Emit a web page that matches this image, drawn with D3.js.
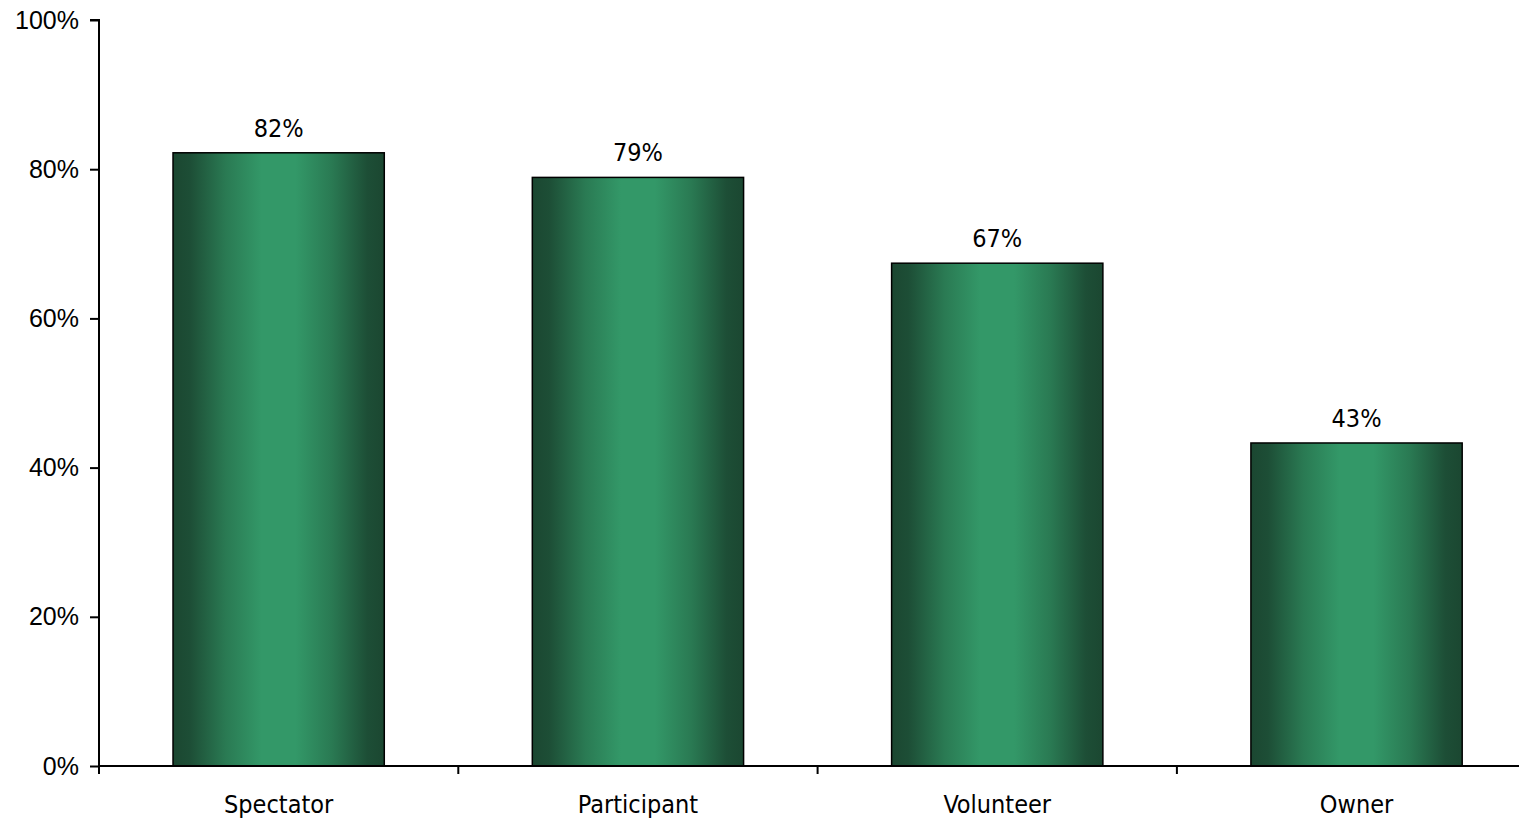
<!DOCTYPE html>
<html>
<head>
<meta charset="utf-8">
<script src="https://cdn.jsdelivr.net/npm/d3@7"></script>
<style>
  body { margin: 0; background: #fff; }
  svg { display: block; font-family: "DejaVu Sans Condensed", "DejaVu Sans", sans-serif; }
</style>
</head>
<body>
<div id="chart"></div>
<script>
// chart values
var categories = ["Spectator", "Participant", "Volunteer", "Owner"];
var values = [82.2, 78.9, 67.4, 43.3];
var valueLabels = ["82%", "79%", "67%", "43%"];
var yTicks = [0, 20, 40, 60, 80, 100];

var width = 1519, height = 819;
var marginLeft = 99, plotTop = 20, plotBottom = 766;
var fontSize = 25;

var svg = d3.select("#chart").append("svg")
  .attr("width", width)
  .attr("height", height);

// horizontal shading of the bars
var grad = svg.append("defs").append("linearGradient")
  .attr("id", "barGrad")
  .attr("x1", "0%").attr("x2", "100%")
  .attr("y1", "0%").attr("y2", "0%");
[[0, "#1b4731"], [0.08, "#1d4e36"], [0.25, "#2a7a53"], [0.42, "#339868"],
 [0.58, "#339868"], [0.75, "#2a7a53"], [0.92, "#1d4e36"], [1, "#1b4731"]]
  .forEach(function(s){
    grad.append("stop").attr("offset", s[0]).attr("stop-color", s[1]);
  });

var x = d3.scaleBand()
  .domain(categories)
  .range([marginLeft, marginLeft + 4 * 359.3])
  .paddingInner(0.412)
  .paddingOuter(0.206);

var y = d3.scaleLinear()
  .domain([0, 100])
  .range([plotBottom, plotTop]);

// bars
svg.append("g").selectAll("rect")
  .data(values)
  .enter()
  .append("rect")
  .attr("x", function(d, i){ return x(categories[i]); })
  .attr("y", function(d){ return y(d); })
  .attr("width", x.bandwidth())
  .attr("height", function(d){ return y(0) - y(d); })
  .attr("fill", "url(#barGrad)")
  .attr("stroke", "#000")
  .attr("stroke-width", 1.5);

// value labels
svg.append("g").selectAll("text")
  .data(values)
  .enter()
  .append("text")
  .attr("x", function(d, i){ return x(categories[i]) + x.bandwidth() / 2; })
  .attr("y", function(d){ return y(d) - 16; })
  .attr("text-anchor", "middle")
  .attr("font-size", fontSize)
  .attr("fill", "#000")
  .text(function(d, i){ return valueLabels[i]; });

// y axis
var yAxis = svg.append("g")
  .attr("transform", "translate(" + marginLeft + ",0)")
  .call(d3.axisLeft(y)
    .tickValues(yTicks)
    .tickSize(9)
    .tickPadding(11)
    .tickFormat(function(d){ return d + "%"; }));
yAxis.select(".domain").attr("d", "M-9," + plotTop + "H0V" + plotBottom);
yAxis.selectAll("line, path").attr("stroke", "#000").attr("stroke-width", 2);
yAxis.selectAll("text").attr("font-size", fontSize).attr("font-family", null).attr("fill", "#000");

// x axis: ticks sit between categories
var xAxisG = svg.append("g").attr("transform", "translate(0," + plotBottom + ")");
xAxisG.append("line")
  .attr("x1", marginLeft).attr("x2", width)
  .attr("y1", 0).attr("y2", 0)
  .attr("stroke", "#000").attr("stroke-width", 2);
xAxisG.selectAll(".sep")
  .data(categories.slice(1))
  .enter()
  .append("line")
  .attr("x1", function(d){ return x(d) - x.step() * x.paddingInner() / 2; })
  .attr("x2", function(d){ return x(d) - x.step() * x.paddingInner() / 2; })
  .attr("y1", 0).attr("y2", 8)
  .attr("stroke", "#000").attr("stroke-width", 2);
xAxisG.append("line")
  .attr("x1", marginLeft).attr("x2", marginLeft)
  .attr("y1", 0).attr("y2", 8)
  .attr("stroke", "#000").attr("stroke-width", 2);
xAxisG.selectAll("text")
  .data(categories)
  .enter()
  .append("text")
  .attr("x", function(d){ return x(d) + x.bandwidth() / 2; })
  .attr("y", 47)
  .attr("text-anchor", "middle")
  .attr("font-size", fontSize)
  .attr("fill", "#000")
  .text(function(d){ return d; });
</script>
</body>
</html>
